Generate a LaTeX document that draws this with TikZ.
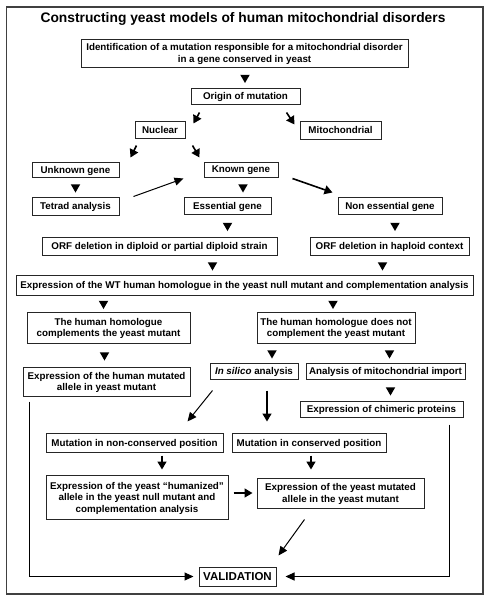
\documentclass[tikz,border=0pt]{standalone}
\usepackage{fontspec}
\setmainfont{Liberation Sans}
\usetikzlibrary{shapes.geometric,arrows.meta}

\tikzset{
  box/.style={draw=black!85, line width=1pt, inner sep=1pt, align=center, text depth=0pt,
    font=\bfseries\fontsize{9.8}{11.5}\selectfont},
  tri/.style={regular polygon, regular polygon sides=3, shape border rotate=180,
    fill=black, inner sep=0pt, minimum size=11pt},
  arr/.style={line width=1pt, -{Triangle[length=9pt,width=8pt]}},
  sarr/.style={line width=1.6pt, -{Triangle[length=8pt,width=9pt]}}
}

\begin{document}
\begin{tikzpicture}[x=1pt,y=-1pt]
  \useasboundingbox (0,0) rectangle (491,600);
  \draw[black!75, line width=1.2pt] (6.5,7) rectangle (483,594);
  \node[font=\bfseries\fontsize{13.8}{16}\selectfont] (title) at (243,19) {Constructing yeast models of human mitochondrial disorders};

  \node[box, minimum width=327, minimum height=28] (ident) at (244.5,53) {Identification of a mutation responsible for a mitochondrial disorder\\in a gene conserved in yeast};
  \node[box, minimum width=109, minimum height=16] (origin) at (245.5,96) {Origin of mutation};
  \node[box, minimum width=50, minimum height=17] (nuclear) at (160,129.5) {Nuclear};
  \node[box, minimum width=81, minimum height=18] (mito) at (340.5,130) {Mitochondrial};
  \node[box, minimum width=87, minimum height=15] (unknown) at (75.5,169.5) {Unknown gene};
  \node[box, minimum width=74, minimum height=15] (known) at (241,169.5) {Known gene};
  \node[box, minimum width=87, minimum height=18] (tetrad) at (75.5,206) {Tetrad analysis};
  \node[box, minimum width=87, minimum height=17] (essential) at (227.5,205.5) {Essential gene};
  \node[box, minimum width=104, minimum height=17] (nonessential) at (390,205.5) {Non essential gene};
  \node[box, minimum width=235, minimum height=18] (orfdip) at (159.5,246) {ORF deletion in diploid or partial diploid strain};
  \node[box, minimum width=159, minimum height=18] (orfhap) at (389.5,246) {ORF deletion in haploid context};
  \node[box, minimum width=457, minimum height=20] (wt) at (244.5,285) {Expression of the WT human homologue in the yeast null mutant and complementation analysis};
  \node[box, minimum width=163, minimum height=31] (compl) at (108.5,327.5) {The human homologue\\complements the yeast mutant};
  \node[box, minimum width=158, minimum height=31] (notcompl) at (336,327.5) {The human homologue does not\\complement the yeast mutant};
  \node[box, minimum width=167, minimum height=29] (humut) at (106.5,381.5) {Expression of the human mutated\\allele in yeast mutant};
  \node[box, minimum width=88, minimum height=16] (insilico) at (254,371) {\textit{In silico} analysis};
  \node[box, minimum width=159, minimum height=16] (import) at (385.5,371) {Analysis of mitochondrial import};
  \node[box, minimum width=163, minimum height=16] (chimeric) at (381.5,409) {Expression of chimeric proteins};
  \node[box, minimum width=177, minimum height=19] (nonconsv) at (134.5,442.5) {Mutation in non-conserved position};
  \node[box, minimum width=154, minimum height=19] (consv) at (309,442.5) {Mutation in conserved position};
  \node[box, minimum width=182, minimum height=44] (humanized) at (137,497) {Expression of the yeast “humanized”\\allele in the yeast null mutant and\\complementation analysis};
  \node[box, minimum width=167, minimum height=30] (yeastmut) at (340.5,493) {Expression of the yeast mutated\\allele in the yeast mutant};
  \node[box, minimum width=77, minimum height=19, font=\bfseries\fontsize{11.5}{13}\selectfont] (valid) at (237.5,576.5) {VALIDATION};

  \path (ident.south) -- (origin.north) node[tri, midway] {};
  \path (unknown.south) -- (tetrad.north) node[tri, midway] {};
  \path ([xshift=2pt]known.south) -- ([xshift=2pt]known.south |- essential.north) node[tri, midway] {};
  \path (essential.south) -- (essential.south |- orfdip.north) node[tri, midway] {};
  \path ([xshift=5pt]nonessential.south) -- ([xshift=5pt]nonessential.south |- orfhap.north) node[tri, midway] {};
  \path ([xshift=53pt]orfdip.south) -- ([xshift=53pt]orfdip.south |- wt.north) node[tri, midway] {};
  \path ([xshift=-7pt]orfhap.south) -- ([xshift=-7pt]orfhap.south |- wt.north) node[tri, midway] {};
  \path ([xshift=-5pt]compl.north |- wt.south) -- ([xshift=-5pt]compl.north) node[tri, midway] {};
  \path ([xshift=-3pt]notcompl.north |- wt.south) -- ([xshift=-3pt]notcompl.north) node[tri, midway] {};
  \path ([xshift=-4pt]compl.south) -- ([xshift=-4pt]compl.south |- humut.north) node[tri, midway] {};
  \path ([xshift=18pt]insilico.north |- notcompl.south) -- ([xshift=18pt]insilico.north) node[tri, midway] {};
  \path ([xshift=4pt]import.north |- notcompl.south) -- ([xshift=4pt]import.north) node[tri, midway] {};
  \path ([xshift=5pt]import.south) -- ([xshift=5pt]import.south |- chimeric.north) node[tri, midway] {};

  \draw[sarr] ([shift={(9,8)}]origin.south west) -- ([shift={(8,3)}]nuclear.north east);
  \draw[sarr] ([shift={(-14,8)}]origin.south east) -- ([shift={(-5,4)}]mito.north west);
  \draw[sarr] ([shift={(2,7)}]nuclear.south west) -- ([shift={(11,-4)}]unknown.north east);
  \draw[sarr] ([shift={(7,7)}]nuclear.south east) -- ([shift={(-4,-4)}]known.north west);
  \draw[arr] ([shift={(14,0)}]tetrad.north east) -- ([shift={(-20,1)}]known.south west);
  \draw[sarr] ([shift={(14,1)}]known.south east) -- ([shift={(-5,-4)}]nonessential.north west);
  \draw[arr] ([shift={(3,11)}]insilico.south west) -- ([shift={(-36,-11)}]nonconsv.north east);
  \draw[sarr, shorten <=11pt, shorten >=11pt] ([xshift=13pt]insilico.south) -- ([xshift=13pt]insilico.south |- consv.north);
  \draw[sarr, shorten <=3pt, shorten >=5pt] ([xshift=27.5pt]nonconsv.south) -- ([xshift=27.5pt]nonconsv.south |- humanized.north);
  \draw[sarr, shorten <=3pt, shorten >=8pt] ([xshift=2pt]consv.south) -- ([xshift=2pt]consv.south |- yeastmut.north);
  \draw[sarr, shorten <=5pt, shorten >=4pt] (humanized.east |- yeastmut.west) -- (yeastmut.west);
  \draw[arr] ([shift={(48,11)}]yeastmut.south west) -- ([shift={(2,-11)}]valid.north east);
  \draw[arr, shorten >=5pt] ([shift={(7,5)}]humut.south west) |- (valid.west);
  \draw[arr, shorten >=9pt] ([shift={(-14,7)}]chimeric.south east) |- (valid.east);
\end{tikzpicture}
\end{document}
